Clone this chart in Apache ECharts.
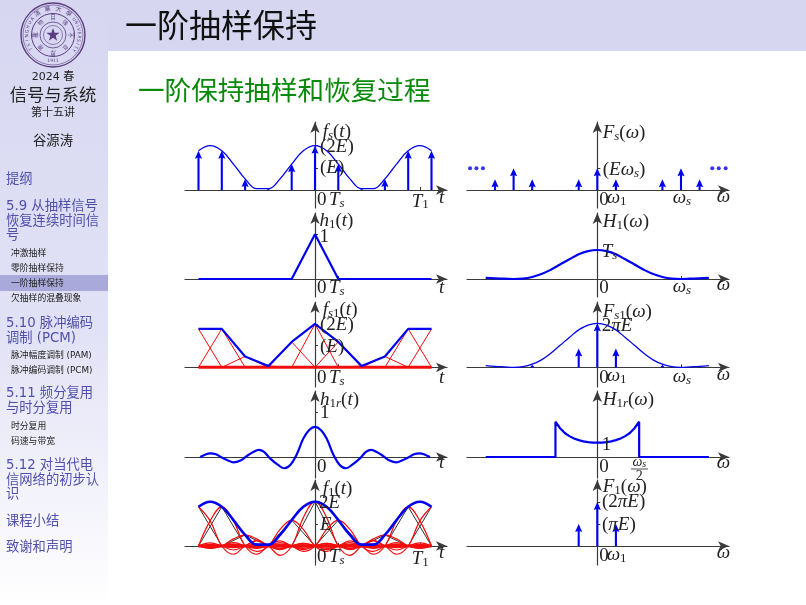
<!DOCTYPE html>
<html>
<head>
<meta charset="utf-8">
<style>
  html, body { margin: 0; padding: 0; background: #fff; }
  #chart { width: 806px; height: 605px; }
</style>
<script src="https://cdn.jsdelivr.net/npm/echarts@6/dist/echarts.min.js"></script>
</head>
<body>
<div id="chart"></div>
<script>
// time side, in units of Ts
const stemT = [-5, -4, -3, -2, -1, 0, 1, 2, 3, 4, 5];
const stemValues = [1.77, 1.77, 0.5, 0.06, 1.17, 2, 1.17, 0.06, 0.5, 1.77, 1.77];
const envelopeT = [-5, -4.5, -4, -3.5, -3, -2.5, -2, -1.5, -1, -0.5, 0, 0.5, 1, 1.5, 2, 2.5, 3, 3.5, 4, 4.5, 5];
const envelopeValues = [1.77, 2, 1.77, 1.17, 0.5, 0.06, 0.06, 0.5, 1.17, 1.77, 2, 1.77, 1.17, 0.5, 0.06, 0.06, 0.5, 1.17, 1.77, 2, 1.77];
const h1T = [-5, -1, 0, 1, 5];
const h1Values = [0, 0, 1, 0, 0];
const h1rT = [-4.93, -4.72, -4.5, -4.25, -4, -3.75, -3.5, -3.2, -2.93, -2.65, -2.41, -2.2, -1.93, -1.6, -1.33, -1.05, -0.79, -0.5, -0.25, 0, 0.25, 0.5, 0.79, 1.05, 1.33, 1.6, 1.93, 2.2, 2.41, 2.65, 2.93, 3.2, 3.5, 3.75, 4, 4.25, 4.5, 4.72, 4.93];
const h1rValues = [0, 0.05, 0.08, 0.06, -0.01, -0.07, -0.12, -0.08, 0.02, 0.11, 0.16, 0.12, -0.03, -0.17, -0.25, -0.17, 0.05, 0.41, 0.6, 0.67, 0.6, 0.41, 0.05, -0.17, -0.25, -0.17, -0.03, 0.12, 0.16, 0.11, 0.02, -0.08, -0.12, -0.07, -0.01, 0.06, 0.08, 0.05, 0];
// one reconstructed pulse in the last plot, right half, step Ts/2
const pulseValues = [1, 0.64, 0, -0.21, 0, 0.13, 0, -0.09, 0, 0.07, 0, -0.06, 0, 0.05, 0, -0.04, 0, 0.04, 0, -0.03, 0];

// frequency side, in units of w1 (ws = 4.5)
const specT = [-6, -5.5, -5, -4.5, -4, -3.5, -3, -2.5, -2, -1.5, -1, -0.5, 0, 0.5, 1, 1.5, 2, 2.5, 3, 3.5, 4, 4.5, 5, 5.5, 6];
const specValues = [0.04, 0.02, 0.01, 0, 0.015, 0.07, 0.17, 0.32, 0.5, 0.68, 0.85, 0.96, 1, 0.96, 0.85, 0.68, 0.5, 0.32, 0.17, 0.07, 0.015, 0, 0.01, 0.02, 0.04];
const fsSpecW = [-5.5, -4.5, -3.5, -1, 0, 1, 3.5, 4.5, 5.5];
const fsSpecValues = [0.5, 1, 0.5, 0.5, 1, 0.5, 0.5, 1, 0.5];
const fs1SpecW = [-5.5, -3.5, -1, 0, 1, 3.5, 5.5];
const fs1SpecValues = [0.02, 0.06, 0.43, 1, 0.43, 0.06, 0.02];
const dotsW = [-6.84, -6.5, -6.15, 6.18, 6.53, 6.9];
const h1rSpecW = [-6, -2.25, -2.25, -2, -1.75, -1.5, -1.25, -1, -0.75, -0.5, -0.25, 0, 0.25, 0.5, 0.75, 1, 1.25, 1.5, 1.75, 2, 2.25, 2.25, 6];
const h1rSpecValues = [0, 0, 2.47, 2.01, 1.68, 1.46, 1.3, 1.18, 1.09, 1.04, 1.01, 1, 1.01, 1.04, 1.09, 1.18, 1.3, 1.46, 1.68, 2.01, 2.47, 0, 0];
const f1SpecW = [-1, 0, 1];
const f1SpecValues = [1, 2, 1];

const BLUE = "#0000f0";
const RED = "#f40c0c";
const INK = "#222";
const SECTION = "#5050ac";
const MATH_FONT = '"Liberation Serif", serif';
const CJK_FONT = '"DejaVu Sans", "Noto Sans CJK SC", sans-serif';

const zip = (xs, ys) => xs.map((x, i) => [x, ys[i]]);

// axis frames: pixel place of the axes and pixels per unit
const LEFT_COL = { left: 185, width: 262, x0: 315, xUnit: 23.3 };
const RIGHT_COL = { left: 467, width: 262, x0: 597.3, xUnit: 18.6 };
const panels = [
  { col: LEFT_COL, y0: 190, top: 122, bottom: 208, yUnit: 22.15, xTicks: [1, 4.5], yTicks: [1, 2] },
  { col: LEFT_COL, y0: 279, top: 213, bottom: 297, yUnit: 44.7, xTicks: [1], yTicks: [1] },
  { col: LEFT_COL, y0: 367.3, top: 302, bottom: 387, yUnit: 21.7, xTicks: [1], yTicks: [1, 2] },
  { col: LEFT_COL, y0: 457, top: 391, bottom: 478, yUnit: 45, xTicks: [], yTicks: [1] },
  { col: LEFT_COL, y0: 546, top: 480, bottom: 565, yUnit: 22.15, xTicks: [1, 4.5], yTicks: [1, 2] },
  { col: RIGHT_COL, y0: 190, top: 122, bottom: 208, yUnit: 21.7, xTicks: [1, 4.5], yTicks: [1] },
  { col: RIGHT_COL, y0: 279, top: 213, bottom: 297, yUnit: 29, xTicks: [4.5], yTicks: [1] },
  { col: RIGHT_COL, y0: 367.3, top: 302, bottom: 387, yUnit: 44, xTicks: [4.5], yTicks: [1] },
  { col: RIGHT_COL, y0: 457, top: 391, bottom: 478, yUnit: 14.3, xTicks: [2.25], yTicks: [1] },
  { col: RIGHT_COL, y0: 546, top: 480, bottom: 565, yUnit: 22, xTicks: [1], yTicks: [1, 2] },
];

const axisLine = {
  onZero: true,
  symbol: ["none", "arrow"],
  symbolSize: [7, 11],
  lineStyle: { color: "#3a3a3a", width: 1.2 },
};
const grids = panels.map((p) => ({
  left: p.col.left,
  width: p.col.width,
  top: p.top,
  height: p.bottom - p.top,
}));
const xAxes = panels.map((p, i) => ({
  type: "value",
  gridIndex: i,
  min: (p.col.left - p.col.x0) / p.col.xUnit,
  max: (p.col.left + p.col.width - p.col.x0) / p.col.xUnit,
  axisLine,
  axisTick: { show: true, inside: true, length: 3, customValues: p.xTicks, lineStyle: { color: "#3a3a3a" } },
  axisLabel: { show: false },
  splitLine: { show: false },
}));
const yAxes = panels.map((p, i) => ({
  type: "value",
  gridIndex: i,
  min: -(p.bottom - p.y0) / p.yUnit,
  max: (p.y0 - p.top) / p.yUnit,
  axisLine,
  axisTick: { show: true, inside: true, length: 3, customValues: p.yTicks, lineStyle: { color: "#3a3a3a" } },
  axisLabel: { show: false },
  splitLine: { show: false },
}));

function curve(i, data, color, width, smooth) {
  return {
    type: "line",
    xAxisIndex: i,
    yAxisIndex: i,
    data,
    smooth: smooth ? 0.4 : false,
    showSymbol: false,
    silent: true,
    lineStyle: { color, width },
  };
}

// arrow stems: the head shrinks with the stem, as in the reference
function stems(i, data) {
  return {
    type: "custom",
    xAxisIndex: i,
    yAxisIndex: i,
    data,
    encode: { x: 0, y: 1 },
    clip: false,
    silent: true,
    renderItem(params, api) {
      const base = api.coord([api.value(0), 0]);
      const tip = api.coord([api.value(0), api.value(1)]);
      const len = base[1] - tip[1];
      const head = Math.min(8, len);
      const half = Math.min(3.6, head * 0.5 + 0.8);
      const x = tip[0];
      return {
        type: "group",
        children: [
          {
            type: "line",
            shape: { x1: x, y1: base[1], x2: x, y2: tip[1] + head * 0.6 },
            style: { stroke: BLUE, lineWidth: 2.1 },
          },
          {
            type: "polygon",
            shape: {
              points: [
                [x, tip[1]],
                [x + half, tip[1] + head],
                [x, tip[1] + head * 0.85],
                [x - half, tip[1] + head],
              ],
            },
            style: { fill: BLUE },
          },
        ],
      };
    },
  };
}

const triangle = (n, h) =>
  [[n - 1, 0], [n, h], [n + 1, 0]].filter((pt) => Math.abs(pt[0]) <= 5);

// pulse of height h centred on sample n, kept inside the plotted span
function pulse(n, h) {
  const right = pulseValues.map((v, k) => [n + k / 2, h * v]);
  const left = pulseValues.slice(1).reverse().map((v, k) => [n - (pulseValues.length - 1 - k) / 2, h * v]);
  return left.concat(right).filter((pt) => Math.abs(pt[0]) <= 5);
}

const baseline = [[-5, 0], [5, 0]];
const envelope = zip(envelopeT, envelopeValues);
const samples = zip(stemT, stemValues);

const series = [
  // f_s(t)
  curve(0, envelope, BLUE, 1.3, true),
  stems(0, samples),
  // h_1(t)
  curve(1, zip(h1T, h1Values), BLUE, 2.2, false),
  // f_s1(t)
  ...samples.map(([n, h]) => curve(2, triangle(n, h), RED, 1, false)),
  curve(2, baseline, RED, 3, false),
  curve(2, samples, BLUE, 2.2, false),
  // h_1r(t)
  curve(3, zip(h1rT, h1rValues), BLUE, 2.2, true),
  // f_1(t)
  ...samples.map(([n, h]) => curve(4, triangle(n, h), "#333", 1, false)),
  ...samples.map(([n, h]) => curve(4, pulse(n, h), RED, 1.2, true)),
  curve(4, baseline, RED, 3, false),
  curve(4, envelope, BLUE, 2.6, true),
  // F_s(w)
  stems(5, zip(fsSpecW, fsSpecValues)),
  {
    type: "scatter",
    xAxisIndex: 5,
    yAxisIndex: 5,
    data: dotsW.map((w) => [w, 1]),
    symbolSize: 4,
    silent: true,
    itemStyle: { color: BLUE },
  },
  // H_1(w)
  curve(6, zip(specT, specValues), BLUE, 2.2, true),
  // F_s1(w)
  curve(7, zip(specT, specValues), BLUE, 1.3, true),
  stems(7, zip(fs1SpecW, fs1SpecValues)),
  // H_1r(w)
  curve(8, zip(h1rSpecW, h1rSpecValues), BLUE, 2.2, false),
  // F_1(w)
  stems(9, zip(f1SpecW, f1SpecValues)),
];

// text on the plots
const MATH_RICH = {
  n: { fontFamily: MATH_FONT, fontSize: 19, lineHeight: 20, fill: INK },
  i: { fontFamily: MATH_FONT, fontSize: 19, fontStyle: "italic", lineHeight: 20, fill: INK },
  sn: { fontFamily: MATH_FONT, fontSize: 13, lineHeight: 9, verticalAlign: "bottom", fill: INK },
  si: { fontFamily: MATH_FONT, fontSize: 13, fontStyle: "italic", lineHeight: 9, verticalAlign: "bottom", fill: INK },
  fi: { fontFamily: MATH_FONT, fontSize: 14, fontStyle: "italic", lineHeight: 14, fill: INK },
  fs: { fontFamily: MATH_FONT, fontSize: 10, fontStyle: "italic", lineHeight: 8, verticalAlign: "bottom", fill: INK },
  fn: { fontFamily: MATH_FONT, fontSize: 14, lineHeight: 14, fill: INK },
};
const T = {
  t: "{i|t}",
  zero: "{n|0}",
  one: "{n|1}",
  Ts: "{i|T}{si|s}",
  T1: "{i|T}{sn|1}",
  w: "{i|ω}",
  w1: "{i|ω}{sn|1}",
  ws: "{i|ω}{si|s}",
  E: "{i|E}",
  pE: "{n|(}{i|E}{n|)}",
  p2E: "{n|(2}{i|E}{n|)}",
};
const mathLabels = [
  [322.7, 132, "{i|f}{si|s}{n|(}{i|t}{n|)}"], [320, 147, T.p2E], [320, 168, T.pE],
  [317, 200, T.zero], [329, 200, T.Ts], [411.7, 201.5, T.T1], [439, 198, T.t],
  [319.5, 221, "{i|h}{sn|1}{n|(}{i|t}{n|)}"], [319.5, 236.7, T.one], [317, 288.3, T.zero], [329, 288.3, T.Ts], [439, 287.7, T.t],
  [322.7, 310, "{i|f}{si|s}{sn|1}{n|(}{i|t}{n|)}"], [320, 325, T.p2E], [320, 346.7, T.pE],
  [317, 378.3, T.zero], [329, 378.3, T.Ts], [439, 378, T.t],
  [320, 400, "{i|h}{sn|1}{si|r}{n|(}{i|t}{n|)}"], [320, 413, T.one], [317, 466.7, T.zero], [439, 463, T.t],
  [322.7, 489, "{i|f}{sn|1}{n|(}{i|t}{n|)}"], [319, 503, "{n|2}{i|E}"], [320, 525, T.E],
  [317, 556.7, T.zero], [329, 557, T.Ts], [411.7, 559, T.T1], [439, 553, T.t],
  [602.7, 133, "{i|F}{si|s}{n|(}{i|ω}{n|)}"], [602.7, 170, "{n|(}{i|Eω}{si|s}{n|)}"],
  [599.3, 200, T.zero], [606.7, 198, T.w1], [672.7, 198, T.ws], [716.7, 196.7, T.w],
  [602.7, 222, "{i|H}{sn|1}{n|(}{i|ω}{n|)}"], [601.7, 251.7, T.Ts], [599.3, 288.3, T.zero], [672.7, 286.7, T.ws], [716.7, 285, T.w],
  [602.7, 311.7, "{i|F}{si|s}{sn|1}{n|(}{i|ω}{n|)}"], [601.7, 325.7, "{n|2}{i|πE}"],
  [599.3, 378.3, T.zero], [606.7, 376, T.w1], [672.7, 376.7, T.ws], [716.7, 375, T.w],
  [602.7, 400, "{i|H}{sn|1}{si|r}{n|(}{i|ω}{n|)}"], [601.7, 445, T.one], [599.3, 466.7, T.zero], [716.7, 463, T.w],
  [602.7, 487, "{i|F}{sn|1}{n|(}{i|ω}{n|)}"], [602, 502.3, "{n|(2}{i|πE}{n|)}"], [602, 525, "{n|(}{i|πE}{n|)}"],
  [599.3, 556, T.zero], [606.7, 555, T.w1], [716.7, 553, T.w],
];

// sidebar: [x, y, size, colour, text, align]
const sideTexts = [
  [53, 77, 11, INK, "2024 春", "center"],
  [53, 96.5, 17.3, INK, "信号与系统", "center"],
  [53, 113, 11, INK, "第十五讲", "center"],
  [53, 142, 13.3, INK, "谷源涛", "center"],
  [6, 180, 13.3, SECTION, "提纲", "left"],
  [6, 207, 13.3, SECTION, "5.9 从抽样信号", "left"],
  [6, 221.5, 13.3, SECTION, "恢复连续时间信", "left"],
  [6, 236, 13.3, SECTION, "号", "left"],
  [11, 254, 8.8, INK, "冲激抽样", "left"],
  [11, 269, 8.8, INK, "零阶抽样保持", "left"],
  [11, 284, 8.8, INK, "一阶抽样保持", "left"],
  [11, 299, 8.8, INK, "欠抽样的混叠现象", "left"],
  [6, 324, 13.3, SECTION, "5.10 脉冲编码", "left"],
  [6, 338.5, 13.3, SECTION, "调制 (PCM)", "left"],
  [11, 356, 8.8, INK, "脉冲幅度调制 (PAM)", "left"],
  [11, 371, 8.8, INK, "脉冲编码调制 (PCM)", "left"],
  [6, 394, 13.3, SECTION, "5.11 频分复用", "left"],
  [6, 409, 13.3, SECTION, "与时分复用", "left"],
  [11, 427, 8.8, INK, "时分复用", "left"],
  [11, 442, 8.8, INK, "码速与带宽", "left"],
  [6, 466, 13.3, SECTION, "5.12 对当代电", "left"],
  [6, 481, 13.3, SECTION, "信网络的初步认", "left"],
  [6, 495, 13.3, SECTION, "识", "left"],
  [6, 522, 13.3, SECTION, "课程小结", "left"],
  [6, 548, 13.3, SECTION, "致谢和声明", "left"],
];

function text(x, y, size, fill, str, align, family) {
  return {
    type: "text",
    x,
    y,
    z: 100,
    silent: true,
    style: {
      text: str,
      fontSize: size,
      fontFamily: family || CJK_FONT,
      fill,
      textAlign: align,
      textVerticalAlign: "middle",
    },
  };
}

// Tsinghua seal
function logo(cx, cy) {
  const PURPLE = "#5b3d80";
  const ring = (r, lineWidth) => ({
    type: "circle",
    shape: { cx, cy, r },
    z: 1,
    silent: true,
    style: { fill: "none", stroke: PURPLE, lineWidth },
  });
  const out = [ring(32, 1.4), ring(30, 0.6), ring(21.5, 1), ring(13, 0.8), ring(9.5, 0.6)];
  const stamp = (str, thetaDeg, r, size, upright) => {
    const a = (thetaDeg * Math.PI) / 180;
    const el = text(cx + r * Math.sin(a), cy - r * Math.cos(a), size, PURPLE, str, "center");
    el.rotation = upright ? 0 : -a;
    return el;
  };
  "清華大學".split("").forEach((c, k) => out.push(stamp(c, -36 + k * 24, 26, 6)));
  "TSINGHUA".split("").forEach((c, k) => out.push(stamp(c, -122 + k * 10, 26, 4.5)));
  "UNIVERSITY".split("").forEach((c, k) => out.push(stamp(c, 54 + k * 8, 26, 4.5)));
  out.push(stamp("1911", 180, 26, 4.5, true));
  "自強不息厚德載物".split("").forEach((c, k) => out.push(stamp(c, k * 45, 17, 5.5)));
  const star = [];
  for (let k = 0; k < 10; k++) {
    const r = k % 2 ? 2.8 : 7;
    const a = (k * Math.PI) / 5;
    star.push([cx + r * Math.sin(a), cy - r * Math.cos(a)]);
  }
  out.push({ type: "polygon", shape: { points: star }, z: 1, silent: true, style: { fill: PURPLE } });
  return out;
}

const rect = (x, y, width, height, fill) => ({
  type: "rect",
  shape: { x, y, width, height },
  z: -10,
  silent: true,
  style: { fill },
});

const richLabel = (x, y, str, align) => ({
  type: "text",
  x,
  y,
  z: 100,
  silent: true,
  style: { text: str, rich: MATH_RICH, fontFamily: MATH_FONT, fontSize: 19, textAlign: align, textVerticalAlign: "middle" },
});

const myChart = echarts.init(document.getElementById("chart"));
myChart.setOption({
  animation: false,
  backgroundColor: "#ffffff",
  grid: grids,
  xAxis: xAxes,
  yAxis: yAxes,
  series,
  graphic: {
    elements: [
      rect(0, 0, 108, 605, new echarts.graphic.LinearGradient(0, 0, 0, 1, [
        { offset: 0, color: "#d6d6f1" },
        { offset: 0.55, color: "#e2e2f6" },
        { offset: 1, color: "#ffffff" },
      ])),
      rect(108, 0, 698, 51, "#d6d6f1"),
      rect(0, 275, 108, 16, "#a9a9dc"),
      ...logo(53, 35),
      text(125, 25, 32, "#111", "一阶抽样保持", "left", '"Noto Sans CJK SC", sans-serif'),
      text(138, 90, 26.6, "#0a8a0a", "一阶保持抽样和恢复过程", "left", '"Noto Sans CJK SC", sans-serif'),
      ...sideTexts.map(([x, y, size, fill, str, align]) => text(x, y, size, fill, str, align)),
      ...mathLabels.map(([x, y, str]) => richLabel(x, y, str, "left")),
      // the ws/2 fraction
      richLabel(639.3, 462.5, "{fi|ω}{fs|s}", "center"),
      { type: "line", shape: { x1: 631, y1: 469, x2: 648, y2: 469 }, z: 100, silent: true, style: { stroke: INK, lineWidth: 0.8 } },
      richLabel(639.3, 476, "{fn|2}", "center"),
    ],
  },
});
</script>
</body>
</html>
